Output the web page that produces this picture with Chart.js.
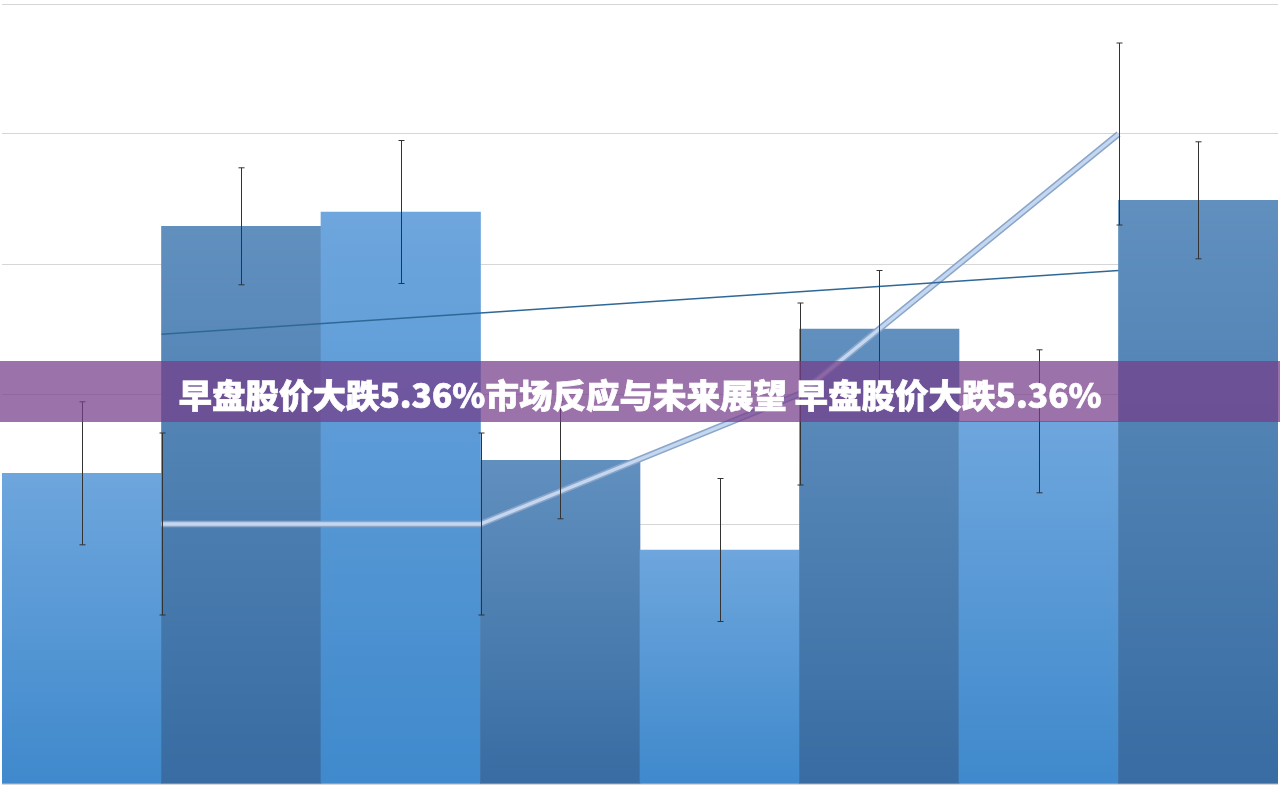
<!DOCTYPE html>
<html lang="zh">
<head>
    <meta charset="UTF-8">
    <title>早盘股价大跌5.36%</title>
    <script src="https://cdn.jsdelivr.net/npm/chart.js"></script>
    <style>
        body { margin: 0; background: #fff; overflow: hidden; }
        #wrap { position: relative; width: 1280px; height: 785px; }
        #banner {
            position: absolute; left: 0; top: 361px; width: 1280px; height: 61px;
            background: rgba(118, 62, 139, 0.73);
            display: flex; align-items: center; justify-content: center;
            color: #fff; font-family: "Noto Sans CJK SC", "Noto Sans", sans-serif;
            font-weight: 900; font-size: 33.5px;
            -webkit-text-stroke: 0.7px #fff;
            padding-top: 3px; box-sizing: border-box;
        }
    </style>
</head>
<body>

<div id="wrap">
    <canvas id="myChart" width="1280" height="785"></canvas>
    <div id="banner">早盘股价大跌5.36%市场反应与未来展望 早盘股价大跌5.36%</div>
</div>

<script>
    // values
    const categories = ['1', '2', '3', '4', '5', '6', '7', '8'];
    const barValues = [2.39, 4.29, 4.40, 2.49, 1.80, 3.50, 2.79, 4.49];
    const barErrors = [0.55, 0.45, 0.55, 0.45, 0.55, 0.45, 0.55, 0.45];

    // the line sits on the bar boundaries (x in category units)
    const linePositions = [1, 3, 5, 7];
    const lineValues = [2, 2, 3, 5];
    const lineErrors = [0.7, 0.7, 0.7, 0.7];

    const trendPositions = [1, 7];
    const trendValues = [3.46, 3.95];

    const yTicks = [0, 1, 2, 3, 4, 5, 6];

    function toPoints(xs, ys) {
        return xs.map((x, i) => ({ x: x, y: ys[i] }));
    }

    // bars centred in their slot on one shared linear x axis
    const barPoints = categories.map((c, i) => ({ x: i + 0.5, y: barValues[i] }));
    const xTicks = categories.map((c, i) => i).concat([categories.length]);

    function barColor(ctx) {
        const chart = ctx.chart;
        const area = chart.chartArea;
        const light = ctx.dataIndex % 2 === 0;
        if (!area) return light ? '#5a9ad8' : '#4a7db2';
        const top = chart.scales.y.getPixelForValue(barValues[ctx.dataIndex]);
        const g = chart.ctx.createLinearGradient(0, top, 0, area.bottom);
        if (light) {
            g.addColorStop(0, '#6ea6dd');
            g.addColorStop(1, '#3f89cc');
        } else {
            g.addColorStop(0, '#6190bf');
            g.addColorStop(1, '#386ca2');
        }
        return g;
    }

    // error bars drawn with the chart's own scales
    const errorBars = {
        id: 'errorBars',
        afterDatasetsDraw(chart) {
            const c = chart.ctx;
            const y = chart.scales.y;
            c.save();
            c.strokeStyle = '#333';
            c.lineWidth = 1;
            chart.data.datasets.forEach((ds, di) => {
                if (!ds.errors) return;
                const meta = chart.getDatasetMeta(di);
                meta.data.forEach((el, i) => {
                    const v = ds.data[i].y;
                    const e = ds.errors[i];
                    const px = Math.round(el.x) + 0.5;
                    const top = y.getPixelForValue(v + e);
                    const bot = y.getPixelForValue(v - e);
                    c.beginPath();
                    c.moveTo(px, top); c.lineTo(px, bot);
                    c.moveTo(px - 3, top); c.lineTo(px + 3, top);
                    c.moveTo(px - 3, bot); c.lineTo(px + 3, bot);
                    c.stroke();
                });
            });
            c.restore();
        }
    };

    const ctx = document.getElementById('myChart').getContext('2d');
    const chart = new Chart(ctx, {
        type: 'bar',
        data: {
            datasets: [
                {
                    type: 'line',
                    data: toPoints(trendPositions, trendValues),
                    borderColor: '#2f6896',
                    borderWidth: 1.5,
                    pointRadius: 0,
                    order: 0
                },
                {
                    type: 'line',
                    data: toPoints(linePositions, lineValues),
                    borderColor: '#c3d7f0',
                    borderWidth: 3.5,
                    pointRadius: 0,
                    errors: lineErrors,
                    order: 1
                },
                {
                    type: 'line',
                    data: toPoints(linePositions, lineValues),
                    borderColor: '#8ba5c9',
                    borderWidth: 6.5,
                    pointRadius: 0,
                    order: 2
                },
                {
                    data: barPoints,
                    errors: barErrors,
                    backgroundColor: barColor,
                    borderWidth: 0,
                    barPercentage: 1,
                    categoryPercentage: 1,
                    order: 3
                }
            ]
        },
        options: {
            responsive: false,
            animation: false,
            layout: { padding: { left: 2, right: 2, top: 4, bottom: 1 } },
            plugins: { legend: { display: false }, tooltip: { enabled: false } },
            scales: {
                x: {
                    type: 'linear',
                    min: 0,
                    max: categories.length,
                    offset: false,
                    display: false,
                    grid: { offset: false },
                    afterBuildTicks: (s) => { s.ticks = xTicks.map(v => ({ value: v })); }
                },
                y: {
                    min: yTicks[0],
                    max: yTicks[yTicks.length - 1],
                    afterBuildTicks: (s) => { s.ticks = yTicks.map(v => ({ value: v })); },
                    ticks: { display: false },
                    border: { display: false },
                    grid: { color: '#d6d6d6', drawTicks: false, lineWidth: 1 }
                }
            }
        },
        plugins: [errorBars]
    });
</script>

</body>
</html>
